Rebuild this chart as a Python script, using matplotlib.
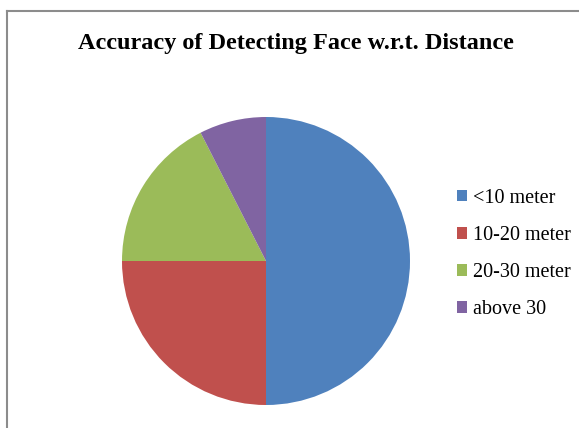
import matplotlib.pyplot as plt
from matplotlib.lines import Line2D

# Дані діаграми
labels = ['<10 meter', '10-20 meter', '20-30 meter', 'above 30']
values = [50, 25, 17.5, 7.5]
colors = ['#4F81BD', '#C0504D', '#9BBB59', '#8064A2']

W, H = 579, 428
fig = plt.figure(figsize=(W / 100, H / 100), dpi=100)

# Рамка (обрізана справа і знизу)
fig.add_artist(Line2D([7 / W, 1], [1 - 11 / H, 1 - 11 / H], color='#8c8c8c', lw=1.5))
fig.add_artist(Line2D([7 / W, 7 / W], [1 - 11 / H, 0], color='#8c8c8c', lw=1.5))

# Кругова діаграма
cx, cy, r = 266, 261, 144
ax = fig.add_axes([(cx - r) / W, (H - cy - r) / H, 2 * r / W, 2 * r / H])
wedges, _ = ax.pie(values, colors=colors, startangle=90, counterclock=False,
                   radius=1, wedgeprops={'linewidth': 0})
ax.set_xlim(-1, 1)
ax.set_ylim(-1, 1)
ax.axis('off')

fig.text(296 / W, 1 - 43 / H, 'Accuracy of Detecting Face w.r.t. Distance',
         ha='center', va='center', fontsize=17.5, fontweight='bold',
         family='Liberation Serif')

fig.legend(wedges, labels, loc='center left', bbox_to_anchor=(439 / W, 1 - 254 / H),
           frameon=False, handlelength=0.5, handleheight=0.5, handletextpad=0.3,
           labelspacing=0.9, prop={'family': 'Liberation Serif', 'size': 14.5})

plt.savefig('out.png', dpi=100)
